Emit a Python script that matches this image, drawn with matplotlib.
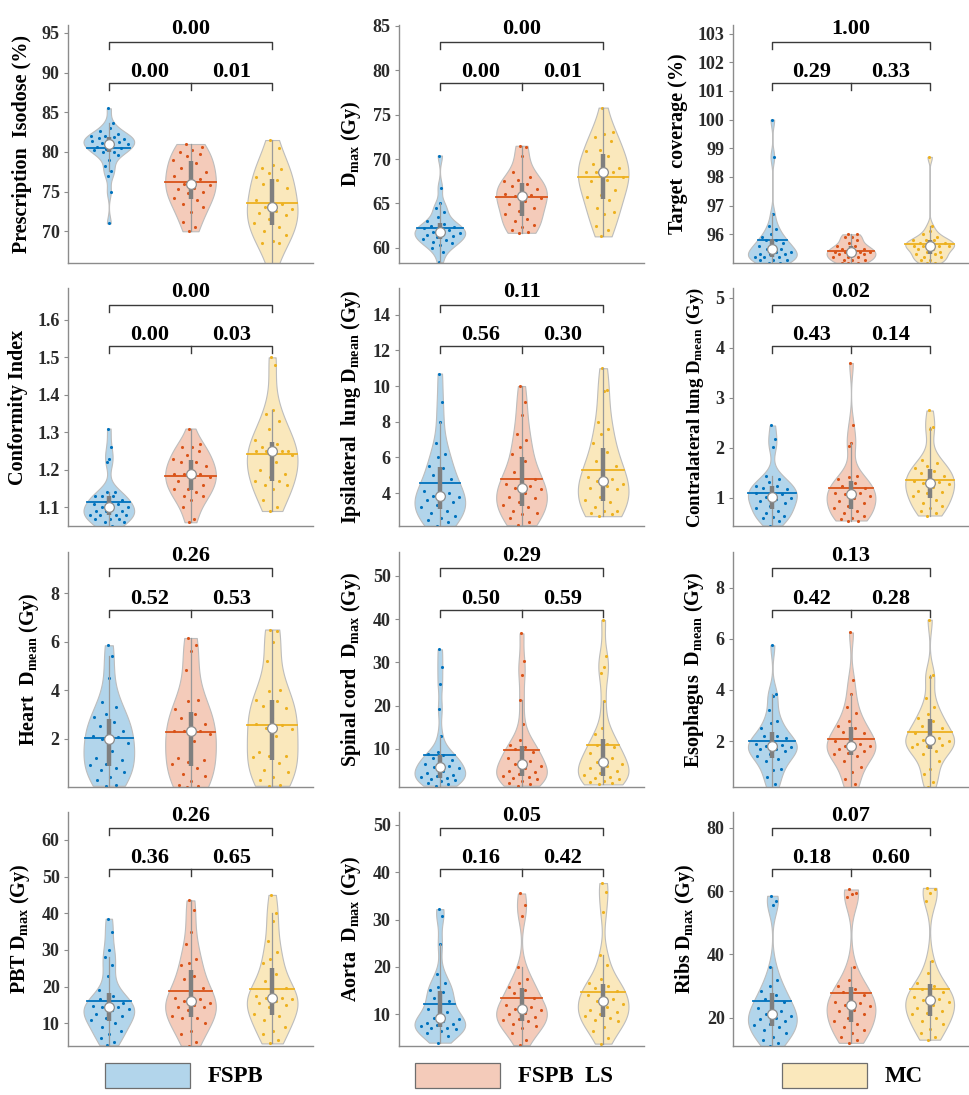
import numpy as np
import matplotlib.pyplot as plt
from matplotlib.patches import Rectangle

plt.rcParams['font.family'] = 'Liberation Serif'
plt.rcParams['font.weight'] = 'bold'
plt.rcParams['mathtext.fontset'] = 'custom'
plt.rcParams['mathtext.rm'] = 'Liberation Serif:bold'
plt.rcParams['mathtext.it'] = 'Liberation Serif:bold'
plt.rcParams['mathtext.bf'] = 'Liberation Serif:bold'

groups = ['FSPB', 'FSPB  LS', 'MC']
line_colors = ['#0072BD', '#D95319', '#EDB120']
fill_colors = ['#B2D5EB', '#F4CBBA', '#FAE8BC']

# ---- data (one list per plan type: FSPB, FSPB LS, MC) ----
isodose = [
    [85.5, 83.6, 83.0, 82.6, 82.3, 82.0, 82.0, 81.9, 81.8, 81.6, 81.5, 81.4, 81.3, 81.1, 81.0,
     80.9, 80.6, 80.5, 80.4, 80.2, 80.0, 80.0, 79.6, 79.0, 78.2, 77.6, 77.0, 75.0, 71.0],
    [81.0, 80.6, 80.2, 80.0, 79.8, 79.5, 79.0, 78.6, 78.0, 77.5, 77.0, 77.0, 76.6, 76.0,
     75.8, 75.5, 75.3, 75.0, 74.8, 74.2, 74.0, 73.5, 73.0, 72.4, 71.2, 70.5, 70.0],
    [81.5, 80.5, 78.3, 78.0, 77.8, 77.3, 76.8, 76.5, 76.0, 75.4, 74.5, 74.0, 73.5, 73.0,
     72.8, 72.5, 72.3, 72.0, 71.5, 71.0, 70.5, 70.0, 69.5, 68.8, 68.5, 68.5, 65.8],
]
dmax = [
    [70.4, 66.8, 65.0, 64.5, 64.0, 63.5, 63.0, 62.7, 62.5, 62.4, 62.3, 62.2, 62.0, 61.8,
     61.7, 61.6, 61.5, 61.3, 61.2, 61.0, 60.9, 60.7, 60.5, 60.3, 60.0, 59.5, 58.4],
    [71.5, 71.4, 70.3, 68.5, 68.0, 67.6, 67.5, 67.2, 67.0, 66.6, 66.3, 66.1, 66.0, 65.8,
     65.6, 65.3, 64.9, 64.5, 64.2, 63.8, 63.3, 63.0, 62.6, 62.3, 62.0, 61.8, 61.7],
    [75.8, 73.0, 72.8, 72.5, 72.0, 71.0, 70.9, 70.3, 69.5, 69.0, 68.8, 68.6, 68.5, 68.5,
     68.0, 67.6, 67.5, 66.5, 66.0, 65.7, 65.4, 64.5, 64.0, 63.8, 62.5, 62.0, 61.3],
]
coverage = [
    [100.0, 98.7, 96.7, 96.3, 96.2, 96.0, 95.9, 95.8, 95.8, 95.7, 95.6, 95.6, 95.5, 95.5,
     95.4, 95.4, 95.3, 95.3, 95.3, 95.2, 95.2, 95.2, 95.1, 95.1, 95.1, 95.0, 95.0],
    [96.0, 96.0, 95.9, 95.9, 95.8, 95.7, 95.6, 95.6, 95.5, 95.5, 95.5, 95.4, 95.4, 95.4,
     95.4, 95.3, 95.3, 95.3, 95.2, 95.2, 95.2, 95.1, 95.1, 95.1, 95.0, 95.0, 95.0],
    [98.7, 96.3, 96.1, 96.0, 95.9, 95.8, 95.8, 95.8, 95.7, 95.7, 95.7, 95.6, 95.6, 95.6,
     95.6, 95.5, 95.5, 95.4, 95.4, 95.3, 95.3, 95.2, 95.2, 95.1, 95.1, 95.0, 95.0],
]
conformity = [
    [1.31, 1.26, 1.23, 1.22, 1.14, 1.14, 1.13, 1.13, 1.13, 1.12, 1.12, 1.11, 1.11, 1.10, 1.10,
     1.10, 1.09, 1.09, 1.09, 1.08, 1.08, 1.08, 1.08, 1.07, 1.07, 1.07, 1.06, 1.06, 1.05, 1.04],
    [1.31, 1.27, 1.26, 1.26, 1.25, 1.24, 1.23, 1.22, 1.22, 1.21, 1.20, 1.19, 1.19, 1.19,
     1.18, 1.18, 1.17, 1.16, 1.15, 1.15, 1.14, 1.13, 1.13, 1.12, 1.10, 1.07, 1.06],
    [1.50, 1.48, 1.36, 1.35, 1.33, 1.31, 1.28, 1.27, 1.26, 1.25, 1.25, 1.25, 1.25, 1.25,
     1.24, 1.22, 1.20, 1.19, 1.18, 1.17, 1.17, 1.16, 1.16, 1.15, 1.12, 1.10, 1.09],
]
ipsi_lung = [
    [10.7, 9.1, 8.0, 6.8, 6.2, 6.0, 5.5, 5.4, 5.0, 4.8, 4.5, 4.1, 4.0, 3.85,
     3.8, 3.7, 3.6, 3.5, 3.3, 3.2, 3.0, 2.9, 2.7, 2.6, 2.5, 2.4, 2.15],
    [10.0, 9.1, 8.4, 7.3, 7.0, 6.6, 6.2, 5.8, 5.2, 4.8, 4.6, 4.5, 4.4, 4.3,
     4.2, 4.0, 3.8, 3.7, 3.5, 3.3, 3.2, 3.0, 2.9, 2.8, 2.6, 2.4, 2.2],
    [11.0, 9.8, 9.7, 8.0, 7.6, 7.3, 6.8, 6.3, 5.8, 5.5, 5.2, 4.9, 4.8, 4.7,
     4.5, 4.4, 4.3, 4.2, 3.8, 3.6, 3.5, 3.2, 3.0, 3.0, 2.9, 2.8, 2.7],
]
contra_lung = [
    [2.45, 2.17, 2.02, 1.45, 1.38, 1.32, 1.25, 1.24, 1.20, 1.18, 1.12, 1.10, 1.08, 1.02,
     1.00, 0.98, 0.95, 0.90, 0.85, 0.80, 0.75, 0.70, 0.65, 0.62, 0.60, 0.55, 0.45],
    [3.70, 2.45, 2.10, 2.05, 1.45, 1.42, 1.38, 1.30, 1.25, 1.20, 1.15, 1.10, 1.10, 1.08,
     1.05, 1.00, 0.95, 0.90, 0.85, 0.80, 0.75, 0.70, 0.65, 0.60, 0.58, 0.55, 0.55],
    [2.75, 2.42, 2.38, 1.75, 1.70, 1.65, 1.60, 1.55, 1.50, 1.45, 1.40, 1.35, 1.32, 1.30,
     1.28, 1.22, 1.15, 1.12, 1.10, 1.05, 0.97, 0.90, 0.85, 0.80, 0.75, 0.70, 0.65],
]
heart = [
    [5.85, 5.4, 4.5, 3.5, 3.3, 3.0, 2.9, 2.7, 2.5, 2.3, 2.2, 2.1, 2.05, 1.97,
     1.8, 1.5, 1.2, 1.1, 0.95, 0.9, 0.8, 0.7, 0.6, 0.4, 0.3, 0.1, 0.05],
    [6.15, 5.85, 5.6, 4.85, 3.6, 3.55, 3.2, 3.0, 2.85, 2.6, 2.45, 2.3, 2.3, 2.3,
     2.2, 1.9, 1.2, 1.1, 1.05, 0.95, 0.8, 0.55, 0.45, 0.25, 0.1, 0.05, 0.0],
    [6.5, 6.45, 6.0, 5.2, 4.0, 3.95, 3.6, 3.55, 3.35, 3.25, 2.85, 2.6, 2.55, 2.45,
     2.4, 2.1, 1.45, 1.3, 1.3, 1.25, 1.0, 0.7, 0.6, 0.4, 0.3, 0.1, 0.05],
]
spinal_cord = [
    [33.0, 29.0, 25.0, 19.3, 13.0, 9.2, 8.8, 8.5, 8.0, 7.5, 7.0, 6.5, 6.0, 5.8,
     5.5, 5.0, 4.5, 4.0, 3.8, 3.5, 3.2, 3.0, 2.8, 2.5, 2.2, 2.0, 1.5],
    [36.7, 30.2, 27.0, 21.4, 15.8, 12.0, 11.0, 10.5, 10.0, 9.3, 8.6, 8.0, 7.2, 6.5,
     6.0, 5.5, 5.0, 4.6, 4.2, 3.8, 3.5, 3.2, 3.0, 2.6, 2.2, 1.8, 1.5],
    [39.8, 31.5, 29.0, 27.5, 21.0, 14.8, 13.5, 11.2, 11.0, 10.5, 9.5, 9.0, 8.0, 7.0,
     6.5, 6.0, 5.5, 5.0, 4.5, 4.0, 3.6, 3.3, 3.0, 2.6, 2.4, 2.1, 1.8],
]
esophagus = [
    [5.75, 3.85, 3.75, 3.2, 2.8, 2.7, 2.5, 2.2, 2.2, 2.1, 2.0, 1.9, 1.85, 1.8,
     1.75, 1.7, 1.7, 1.6, 1.5, 1.4, 1.3, 1.2, 0.9, 0.85, 0.6, 0.3, 0.1],
    [6.25, 4.4, 3.85, 3.35, 3.1, 2.8, 2.6, 2.5, 2.35, 2.3, 2.2, 2.0, 1.9, 1.8,
     1.8, 1.75, 1.7, 1.6, 1.55, 1.5, 1.4, 1.2, 1.0, 0.8, 0.5, 0.3, 0.05],
    [6.75, 4.6, 4.5, 3.7, 3.35, 3.05, 2.9, 2.8, 2.6, 2.5, 2.4, 2.3, 2.1, 2.05,
     2.0, 1.95, 1.9, 1.85, 1.8, 1.75, 1.6, 1.5, 1.2, 0.9, 0.7, 0.4, 0.2],
]
pbt = [
    [38.5, 35.0, 30.0, 28.0, 26.0, 23.0, 19.2, 17.5, 16.5, 15.5, 15.0, 14.8, 14.5, 14.3,
     14.0, 13.5, 12.5, 12.0, 11.5, 11.0, 10.2, 9.0, 8.0, 7.0, 6.0, 5.0, 4.0],
    [43.5, 41.0, 35.0, 31.5, 27.5, 26.3, 26.0, 23.0, 22.0, 19.5, 18.0, 17.0, 16.5, 16.2,
     15.5, 15.0, 14.5, 14.3, 13.5, 12.0, 11.5, 11.5, 10.0, 8.0, 7.0, 5.0, 3.8],
    [45.0, 40.0, 38.0, 32.5, 29.5, 27.5, 26.5, 23.5, 21.5, 19.5, 18.5, 17.5, 17.0, 16.8,
     16.5, 16.0, 15.5, 15.0, 14.5, 12.5, 12.0, 11.0, 9.0, 8.0, 7.0, 5.5, 4.5],
]
aorta = [
    [32.2, 30.7, 24.8, 18.5, 16.5, 15.8, 15.2, 14.7, 13.5, 12.8, 12.0, 11.2, 10.5, 9.2,
     9.0, 8.6, 8.2, 8.0, 7.8, 7.5, 7.2, 7.0, 6.8, 6.5, 6.0, 5.5, 4.0],
    [35.5, 33.0, 30.8, 20.0, 17.5, 16.5, 15.7, 15.2, 14.5, 13.5, 12.5, 12.0, 11.5, 11.2,
     10.8, 10.3, 10.0, 9.5, 9.0, 8.8, 8.5, 8.0, 7.5, 7.0, 6.0, 4.5, 3.5],
    [37.7, 35.8, 31.5, 22.5, 20.5, 17.5, 16.7, 16.0, 15.5, 15.0, 14.5, 14.0, 13.2, 12.8,
     12.2, 11.5, 11.0, 10.5, 10.0, 9.6, 9.2, 8.7, 8.5, 7.3, 6.5, 5.0, 3.8],
]
ribs = [
    [58.5, 57.0, 55.5, 36.0, 32.0, 30.0, 28.5, 27.0, 26.0, 25.0, 24.0, 23.0, 22.0, 21.0,
     20.5, 20.0, 19.5, 19.0, 18.0, 17.5, 17.0, 16.0, 15.0, 14.0, 13.0, 12.0, 11.0],
    [60.5, 59.5, 59.0, 58.0, 36.0, 32.0, 30.0, 29.0, 28.0, 27.0, 26.0, 25.0, 24.5, 24.0,
     23.5, 22.5, 22.0, 21.0, 20.0, 19.0, 18.0, 17.0, 16.0, 15.0, 14.0, 13.0, 12.0],
    [61.0, 60.5, 59.5, 57.0, 38.0, 34.0, 31.0, 30.0, 29.0, 28.0, 27.0, 26.5, 26.0, 25.5,
     25.0, 24.0, 23.0, 22.0, 21.5, 21.0, 20.0, 19.0, 18.0, 16.5, 15.0, 14.0, 13.0],
]

# p-values: FSPB vs FSPB LS, FSPB LS vs MC, FSPB vs MC
p_isodose = [0.00, 0.01, 0.00]
p_dmax = [0.00, 0.01, 0.00]
p_coverage = [0.29, 0.33, 1.00]
p_conformity = [0.00, 0.03, 0.00]
p_ipsi = [0.56, 0.30, 0.11]
p_contra = [0.43, 0.14, 0.02]
p_heart = [0.52, 0.53, 0.26]
p_cord = [0.50, 0.59, 0.29]
p_esoph = [0.42, 0.28, 0.13]
p_pbt = [0.36, 0.65, 0.26]
p_aorta = [0.16, 0.42, 0.05]
p_ribs = [0.18, 0.60, 0.07]

labels = [
    'Prescription  Isodose (%)', r'D$_{\mathrm{max}}$ (Gy)', 'Target  coverage (%)',
    'Conformity Index', r'Ipsilateral  lung D$_{\mathrm{mean}}$ (Gy)',
    r'Contralateral lung D$_{\mathrm{mean}}$ (Gy)',
    r'Heart  D$_{\mathrm{mean}}$ (Gy)', r'Spinal cord  D$_{\mathrm{max}}$ (Gy)',
    r'Esophagus  D$_{\mathrm{mean}}$ (Gy)',
    r'PBT D$_{\mathrm{max}}$ (Gy)', r'Aorta  D$_{\mathrm{max}}$ (Gy)', r'Ribs D$_{\mathrm{max}}$ (Gy)',
]
yticks = [
    [70, 75, 80, 85, 90, 95], [60, 65, 70, 75, 80, 85], [96, 97, 98, 99, 100, 101, 102, 103],
    [1.1, 1.2, 1.3, 1.4, 1.5, 1.6], [4, 6, 8, 10, 12, 14], [1, 2, 3, 4, 5],
    [2, 4, 6, 8], [10, 20, 30, 40, 50], [2, 4, 6, 8],
    [10, 20, 30, 40, 50, 60], [10, 20, 30, 40, 50], [20, 40, 60, 80],
]
ylims = [
    (66.0, 96.0), (58.3, 85.1), (95.0, 103.3),
    (1.05, 1.685), (2.15, 15.5), (0.44, 5.2),
    (0.0, 9.7), (1.2, 55.5), (0.2, 9.4),
    (3.8, 67.6), (3.3, 52.7), (11.0, 85.0),
]
tick_fmt = ['%d', '%d', '%d', '%.1f', '%d', '%d', '%d', '%d', '%d', '%d', '%d', '%d']

datasets = [isodose, dmax, coverage, conformity, ipsi_lung, contra_lung,
            heart, spinal_cord, esophagus, pbt, aorta, ribs]
pvals = [p_isodose, p_dmax, p_coverage, p_conformity, p_ipsi, p_contra,
         p_heart, p_cord, p_esoph, p_pbt, p_aorta, p_ribs]


def kde(x, grid):
    x = np.asarray(x, dtype=float)
    sig = np.median(np.abs(x - np.median(x))) / 0.6745
    if sig <= 0:
        sig = np.std(x)
    bw = sig * (4.0 / (3.0 * len(x))) ** 0.2
    return np.exp(-0.5 * ((grid[:, None] - x[None, :]) / bw) ** 2).sum(axis=1)


def draw_violin(ax, data, pos, k, hw=0.31):
    data = np.asarray(data, dtype=float)
    grid = np.linspace(data.min(), data.max(), 300)
    dens = kde(data, grid)
    w = dens / dens.max() * hw
    ax.fill_betweenx(grid, pos - w, pos + w, facecolor=fill_colors[k],
                     edgecolor='#BDBDBD', lw=0.8, zorder=1)
    # jittered points
    wd = np.interp(data, grid, w)
    u = ((np.arange(len(data)) * 0.6180339 + 0.31) % 1.0) * 1.7 - 0.85
    ax.scatter(pos + u * wd, data, s=5, color=line_colors[k], lw=0, zorder=2)
    # mean line
    m = data.mean()
    wm = np.interp(m, grid, w)
    ax.plot([pos - wm, pos + wm], [m, m], color=line_colors[k], lw=1.3, zorder=3)
    # box, whiskers, median
    q1, med, q3 = np.percentile(data, [25, 50, 75])
    iqr = q3 - q1
    lo = data[data >= q1 - 1.5 * iqr].min()
    hi = data[data <= q3 + 1.5 * iqr].max()
    ax.plot([pos, pos], [lo, hi], color='#9A9A9A', lw=0.9, zorder=4)
    ax.plot([pos, pos], [q1, q3], color='#7F7F7F', lw=3.2, solid_capstyle='butt', zorder=5)
    ax.plot(pos, med, 'o', ms=7, mfc='white', mec='#8C8C8C', mew=0.9, zorder=6)


def draw_brackets(ax, p):
    tr = ax.get_xaxis_transform()
    kw = dict(color='#3A3A3A', lw=1.0, transform=tr, clip_on=False)
    lo, hi, t = 0.755, 0.93, 0.03
    ax.plot([1, 1, 3, 3], [lo - t, lo, lo, lo - t], **kw)
    ax.plot([2, 2], [lo, lo - t], **kw)
    ax.plot([1, 1, 3, 3], [hi - t, hi, hi, hi - t], **kw)
    tkw = dict(ha='center', va='center', transform=tr, fontsize=16, fontweight='bold')
    ax.text(1.5, lo + 0.047, '%.2f' % p[0], **tkw)
    ax.text(2.5, lo + 0.047, '%.2f' % p[1], **tkw)
    ax.text(2.0, hi + 0.055, '%.2f' % p[2], **tkw)


W, H = 969, 1095
fig = plt.figure(figsize=(W / 100, H / 100), dpi=100)

col_x = [68, 399, 733]
col_w = [245, 245, 236]
row_top = [25, 288, 552, 812]
row_h = [238, 238, 235, 234]

for i, data in enumerate(datasets):
    r, c = divmod(i, 3)
    ax = fig.add_axes([col_x[c] / W, 1 - (row_top[r] + row_h[r]) / H, col_w[c] / W, row_h[r] / H])
    for k in range(3):
        draw_violin(ax, data[k], k + 1, k)
    ax.set_xlim(0.5, 3.5)
    ax.set_ylim(*ylims[i])
    ax.set_yticks(yticks[i])
    ax.set_yticklabels([tick_fmt[i] % v for v in yticks[i]])
    ax.set_xticks([])
    for s in ['top', 'right']:
        ax.spines[s].set_visible(False)
    for s in ['left', 'bottom']:
        ax.spines[s].set_color('#8C8C8C')
        ax.spines[s].set_linewidth(1.0)
    ax.tick_params(axis='y', direction='out', length=3, width=0.8, color='#8C8C8C',
                   labelsize=13, labelcolor='#2A2A2A', pad=3)
    fs = 13.5 if i == 5 else 14.5
    ax.set_ylabel(labels[i], fontsize=fs, fontweight='bold', labelpad=7)
    draw_brackets(ax, pvals[i])

# legend row
leg_x = [105, 415, 782]
for k in range(3):
    fig.add_artist(Rectangle((leg_x[k] / W, 1 - 1088 / H), 85 / W, 25 / H,
                             transform=fig.transFigure, facecolor=fill_colors[k],
                             edgecolor='#6E6E6E', lw=0.9))
    fig.text((leg_x[k] + 103) / W, 1 - 1076 / H, groups[k], fontsize=16.5,
             fontweight='bold', va='center', ha='left')

fig.savefig('out.png', dpi=100)
